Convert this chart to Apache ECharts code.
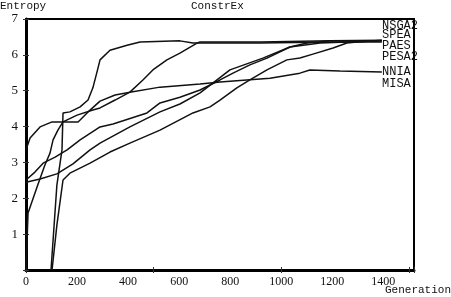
<!DOCTYPE html>
<html><head><meta charset="utf-8">
<script src="https://cdn.jsdelivr.net/npm/echarts@6/dist/echarts.min.js"></script>
<style>html,body{margin:0;padding:0;background:#fff}#c{width:451px;height:297px}</style>
</head><body><div id="c"></div>
<script>
// data (Generation, Entropy)
const xTickLabels = [0, 200, 400, 600, 800, 1000, 1200, 1400];
const yTickLabels = [1, 2, 3, 4, 5, 6, 7];
const seriesNames = ['NSGA2', 'SPEA', 'PAES', 'PESA2', 'NNIA', 'MISA'];
const fastCurve = [[98,0],[121,2.37],[141,3.35],[145,4.38],[172,4.41],[212,4.55],[243,4.74],[262,5.08],[278,5.52],[290,5.86],[329,6.13],[396,6.27],[447,6.36],[603,6.39],[654,6.33],[917,6.33],[1191,6.36],[1394,6.36]];
const secondCurve = [[0,0],[8,1.59],[43,2.31],[74,2.93],[94,3.26],[106,3.63],[125,3.90],[145,4.13],[200,4.32],[262,4.46],[290,4.52],[349,4.74],[407,4.96],[458,5.30],[497,5.58],[552,5.86],[603,6.05],[670,6.33],[682,6.36],[917,6.36],[1191,6.39],[1394,6.39]];
const nniaCurve = [[0,3.35],[16,3.68],[55,3.99],[102,4.13],[204,4.13],[251,4.46],[290,4.71],[349,4.88],[407,4.96],[525,5.10],[682,5.19],[760,5.24],[956,5.35],[1073,5.49],[1112,5.58],[1230,5.55],[1394,5.52]];
const curveC = [[0,2.51],[35,2.73],[67,2.98],[114,3.15],[161,3.35],[212,3.63],[290,3.99],[341,4.07],[474,4.38],[525,4.66],[603,4.82],[682,5.02],[760,5.30],[811,5.49],[877,5.72],[944,5.91],[1034,6.22],[1101,6.33],[1191,6.39],[1394,6.41]];
const curveD = [[0,2.45],[55,2.54],[121,2.68],[184,2.96],[251,3.35],[290,3.54],[407,3.99],[525,4.41],[603,4.63],[682,4.94],[799,5.58],[928,5.91],[1034,6.22],[1152,6.33],[1394,6.39]];
const curveM = [[102,0],[121,1.25],[145,2.51],[172,2.70],[251,2.98],[329,3.29],[407,3.54],[525,3.90],[654,4.38],[721,4.55],[760,4.74],[826,5.08],[877,5.30],[944,5.58],[1022,5.86],[1073,5.91],[1124,6.02],[1203,6.19],[1257,6.33],[1297,6.36],[1394,6.41]];

const curves = [fastCurve, secondCurve, curveC, curveD, nniaCurve, curveM];
const chart = echarts.init(document.getElementById('c'), null, {renderer: 'canvas'});
const serif = 'Liberation Serif';
const mono = 'Liberation Mono';
const XMAX = 1520;
const labelTops = [20, 29, 40, 51, 66, 78];
chart.setOption({
  animation: false,
  backgroundColor: '#fff',
  grid: {left: 26, right: 37, top: 19, bottom: 27, show: true, borderColor: '#000', borderWidth: 2},
  xAxis: [
    {type: 'value', min: 0, max: XMAX, interval: 200, position: 'bottom',
     axisLine: {lineStyle: {color: '#000', width: 3}}, axisTick: {show: false}, splitLine: {show: false},
     axisLabel: {color: '#111', fontFamily: serif, fontSize: 12, margin: 6,
       formatter: v => xTickLabels.includes(v) ? String(v) : ''}},
    {type: 'value', min: 0, max: XMAX, interval: 500, position: 'top',
     axisLine: {show: true, lineStyle: {color: '#000', width: 2}}, axisTick: {show: true, inside: true, length: 3, lineStyle: {color: '#333'}},
     axisLabel: {show: false}, splitLine: {show: false}},
    {type: 'value', min: 0, max: XMAX, interval: 500, position: 'bottom',
     axisLine: {show: false}, axisTick: {show: true, inside: true, length: 3, lineStyle: {color: '#333'}},
     axisLabel: {show: false}, splitLine: {show: false}}
  ],
  yAxis: [
    {type: 'value', min: 0, max: 7, interval: 1,
     axisLine: {show: true, lineStyle: {color: '#000', width: 3}}, axisTick: {show: true, inside: true, length: 3, lineStyle: {color: '#333'}}, splitLine: {show: false},
     axisLabel: {color: '#111', fontFamily: serif, fontSize: 13, margin: 8,
       formatter: v => yTickLabels.includes(v) ? String(v) : ''}},
    {type: 'value', min: 0, max: 7, interval: 1, position: 'right',
     axisLine: {show: true, lineStyle: {color: '#000', width: 2}}, axisTick: {show: true, inside: true, length: 3, lineStyle: {color: '#333'}},
     axisLabel: {show: false}, splitLine: {show: false}}
  ],
  series: curves.map((d, i) => ({
    name: seriesNames[i], type: 'line', data: d, symbol: 'none', smooth: false,
    lineStyle: {color: '#111', width: 1.5}, z: 1
  })),
  graphic: [
    {type: 'text', left: 0, top: 1, style: {text: 'Entropy', font: '11px "' + mono + '"', fill: '#111'}},
    {type: 'text', left: 191, top: 1, style: {text: 'ConstrEx', font: '11px "' + mono + '"', fill: '#111'}},
    {type: 'text', left: 385, top: 285, style: {text: 'Generation', font: '11px "' + mono + '"', fill: '#111'}}
  ].concat(seriesNames.map((n, i) => ({
    type: 'text', left: 382, top: labelTops[i], z: 10,
    style: {text: n, font: '12px "' + mono + '"', fill: '#111'}
  })))
});
</script></body></html>
